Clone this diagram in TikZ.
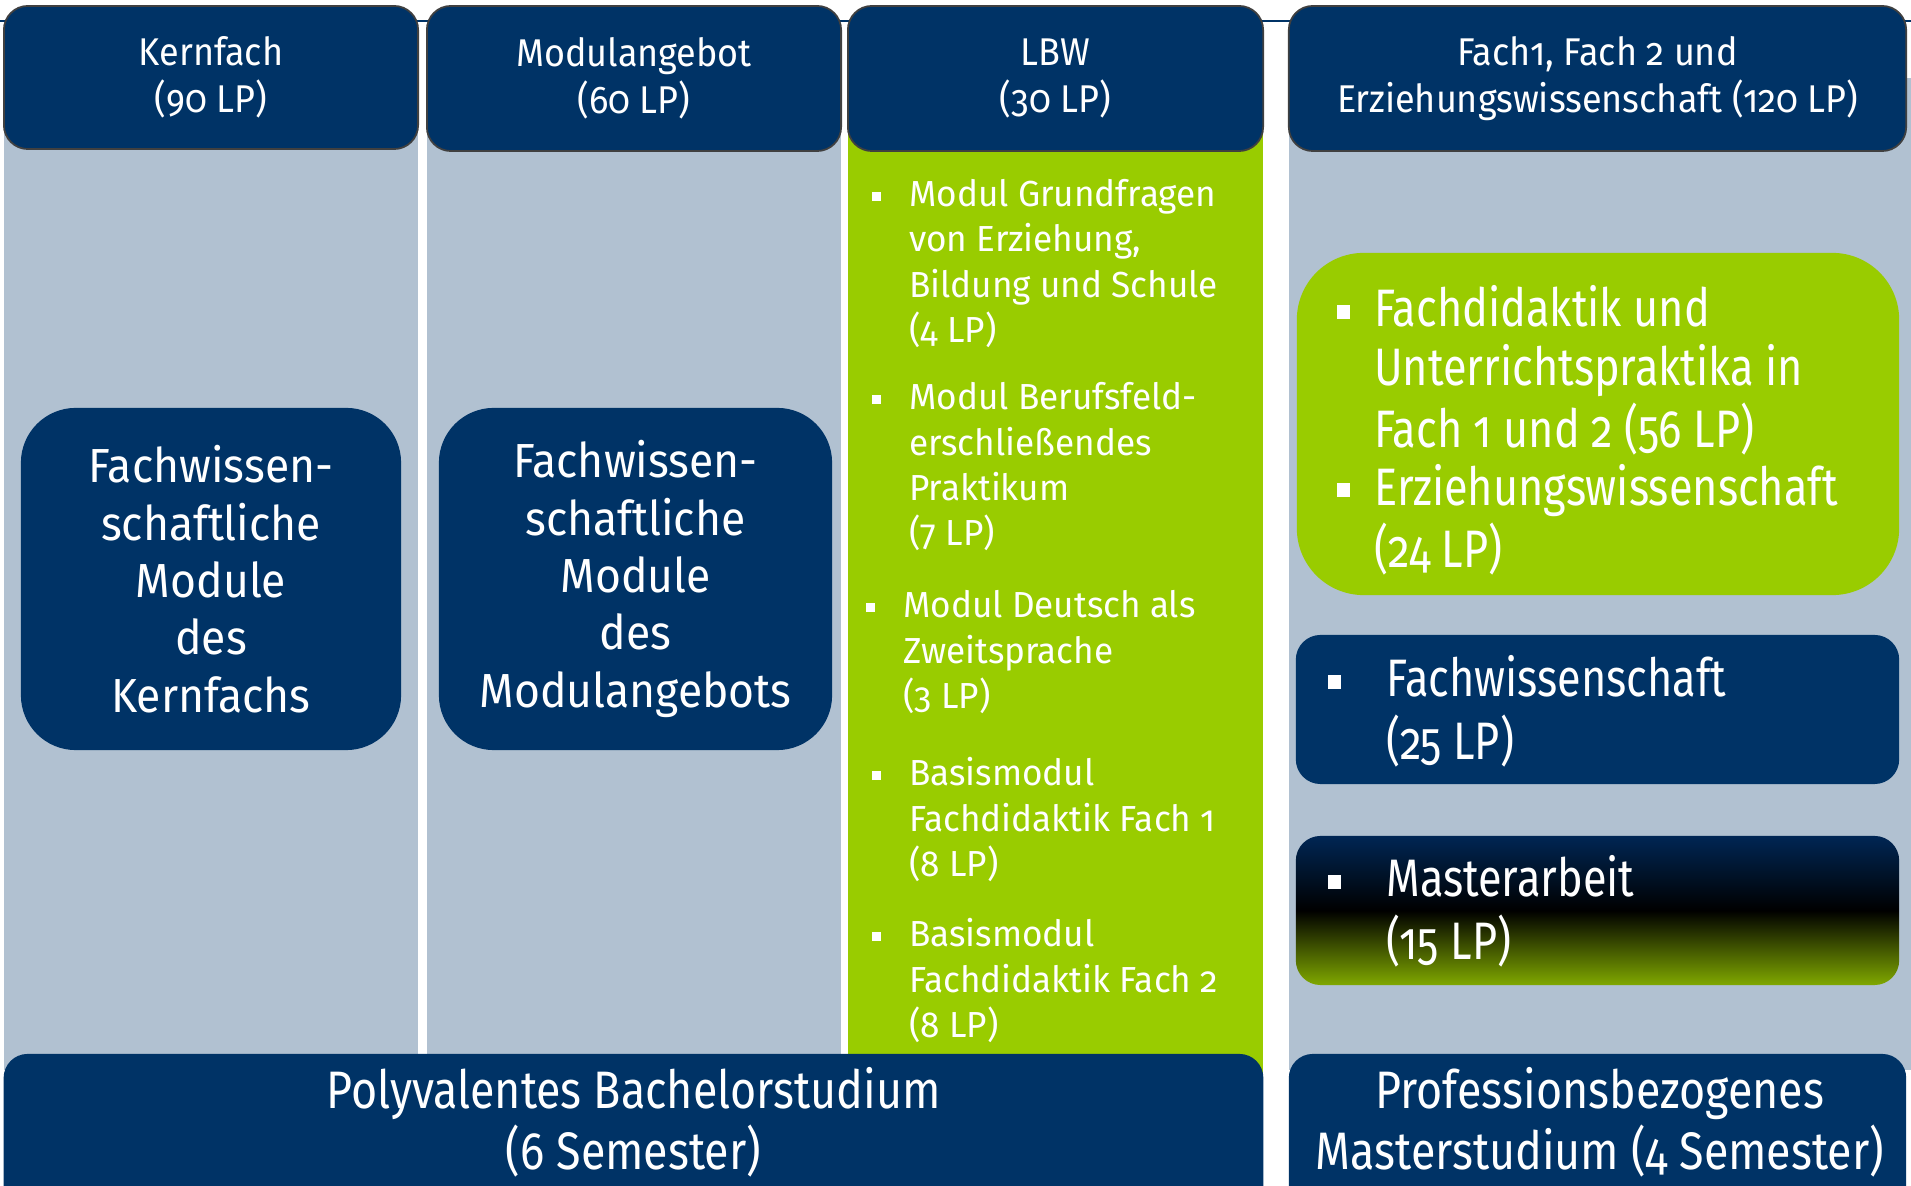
\documentclass[tikz,border=0pt]{standalone}
\usepackage{fontspec}
\setmainfont{Fira Sans}[Numbers=OldStyle,FakeStretch=0.93]
\newfontfamily\widefont{Fira Sans}[Numbers=OldStyle,FakeStretch=0.97]
\newfontfamily\bannerfont{Fira Sans}[Numbers=OldStyle,FakeStretch=0.85]
\newfontfamily\narrowfont{Fira Sans}[Numbers=OldStyle,FakeStretch=0.82]
\definecolor{unibl}{RGB}{0,51,102}
\definecolor{colgray}{RGB}{177,193,209}
\definecolor{lbwgreen}{RGB}{153,204,0}
\definecolor{deepnavy}{RGB}{0,38,84}
\definecolor{olive}{RGB}{128,168,0}
\newcommand{\sqbul}{\rule[0.16em]{0.26em}{0.26em}}
\newcommand{\blist}[2]{\begin{tabular}[t]{@{}l@{\hspace{#1}}l@{}}#2\end{tabular}}

\begin{document}
\begin{tikzpicture}[x=0.01cm,y=-0.01cm,
  head/.style={rectangle,rounded corners=6.8pt,fill=unibl,draw=black!75,line width=0.5pt,
    text=white,align=center,font=\fontsize{11}{13.2}\selectfont},
  modbox/.style={rectangle,rounded corners=15.6pt,fill=unibl,text=white,align=center,
    font=\fontsize{13.6}{16.3}\selectfont},
  banner/.style={rectangle,rounded corners=6.8pt,fill=unibl},
  bantext/.style={text=white,align=center,font=\bannerfont\fontsize{15}{17.4}\selectfont},
  lbwitem/.style={anchor=base west,inner sep=0pt,text=white,font=\widefont\fontsize{10.3}{12.8}\selectfont},
  mitem/.style={anchor=base west,inner sep=0pt,text=white,font=\narrowfont\fontsize{15}{16.3}\selectfont},
  mbox/.style={rectangle,rounded corners=7pt,minimum width=6.03cm,minimum height=1.49cm}]

\useasboundingbox (0,0) rectangle (1911,1186);

% columns
\fill[colgray] (4,78) rectangle (418,1070);
\fill[colgray] (427,78) rectangle (841,1070);
\fill[lbwgreen] (848,78) rectangle (1263,1080);
\fill[colgray] (1289,78) rectangle (1911,1070);
\draw[unibl,line width=0.7pt] (0,21) -- (1911,21);

% headers
\node[head,minimum width=4.14cm,minimum height=1.43cm] (kern) at (211,77.5) {Kernfach\\(90 LP)};
\node[head,minimum width=4.14cm,minimum height=1.45cm] (angebot) at (634,78.5) {Modulangebot\\(60 LP)};
\node[head,minimum width=4.15cm,minimum height=1.45cm] (lbw) at (1055.5,78.5) {LBW\\(30 LP)};
\node[head,minimum width=6.17cm,minimum height=1.45cm] (master) at (1597.5,78.5) {Fach1, Fach 2 und\\Erziehungswissenschaft (120 LP)};

% bachelor boxes
\node[modbox,minimum width=3.80cm,minimum height=3.42cm] (kernmod) at (211,579)
  {Fachwissen-\\schaftliche\\Module\\des\\Kernfachs};
\node[modbox,minimum width=3.93cm,minimum height=3.42cm] (angebotmod) at (635.5,579)
  {Fachwissen-\\schaftliche\\Module\\des\\Modulangebots};

% LBW modules
\node[lbwitem] (grund) at (871,207) {\blist{8pt}{\sqbul & Modul Grundfragen\\ & von Erziehung,\\ & Bildung und Schule\\ & (4 LP)}};
\node[lbwitem] (beruf) at (871,410) {\blist{8pt}{\sqbul & Modul Berufsfeld-\\ & erschließendes\\ & Praktikum\\ & (7 LP)}};
\node[lbwitem] (daz) at (865,618) {\blist{8pt}{\sqbul & Modul Deutsch als\\ & Zweitsprache\\ & (3 LP)}};
\node[lbwitem] (basis1) at (871,786) {\blist{8pt}{\sqbul & Basismodul\\ & Fachdidaktik Fach 1\\ & (8 LP)}};
\node[lbwitem] (basis2) at (871,947) {\blist{8pt}{\sqbul & Basismodul\\ & Fachdidaktik Fach 2\\ & (8 LP)}};

% master boxes
\node[rectangle,rounded corners=19pt,fill=lbwgreen,minimum width=6.02cm,minimum height=3.42cm] (didbox) at (1598,424) {};
\node[mitem] (did) at (1336,327) {\blist{6.8pt}{\sqbul & Fachdidaktik und\\ & Unterrichtspraktika in\\ & Fach 1 und 2 (56 LP)\\ \sqbul & Erziehungswissenschaft\\ & (24 LP)}};
\node[mbox,fill=unibl] (fwbox) at (1597.5,709.5) {};
\node[mitem,font=\narrowfont\fontsize{15}{16.8}\selectfont] (fw) at (1327,697) {\blist{12.8pt}{\sqbul & Fachwissenschaft\\ & (25 LP)}};
\node[mbox,top color=deepnavy,bottom color=olive,middle color=black] (mabox) at (1597.5,910.5) {};
\node[mitem,font=\narrowfont\fontsize{15}{16.8}\selectfont] (ma) at (1327,897) {\blist{12.8pt}{\sqbul & Masterarbeit\\ & (15 LP)}};

% banners
\node[banner,minimum width=12.59cm,minimum height=1.8cm] (bachelor) at (633.5,1144) {};
\node[bantext] (bachlabel) at (633.5,1122) {Polyvalentes Bachelorstudium\\(6 Semester)};
\node[banner,minimum width=6.17cm,minimum height=1.8cm] (profmaster) at (1597.5,1144) {};
\node[bantext] (masterlabel) at (1600,1122) {Professionsbezogenes\\Masterstudium (4 Semester)};
\end{tikzpicture}
\end{document}
